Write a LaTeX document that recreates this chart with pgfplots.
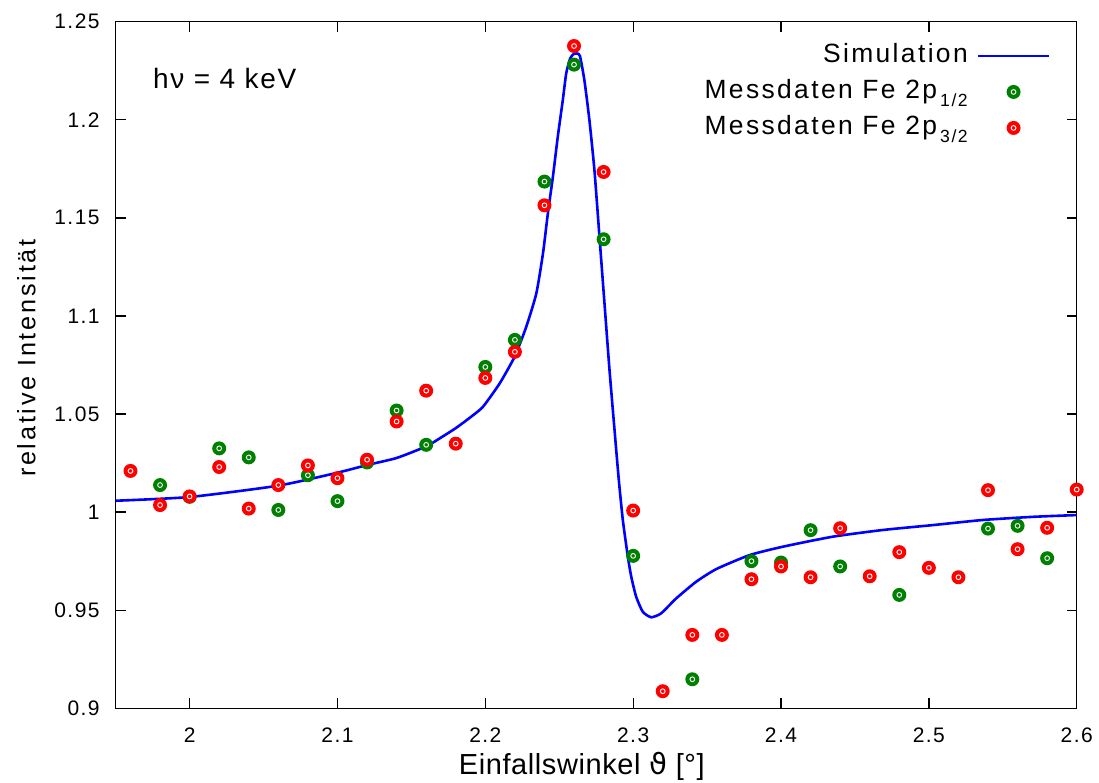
\documentclass[border=0pt]{standalone}
\usepackage{fontspec}
\setmainfont{Liberation Sans}
\newfontfamily\tickfont{Liberation Sans}[LetterSpace=7]
\newfontfamily\legfont{Liberation Sans}[LetterSpace=9]
\newfontfamily\hnufont{Liberation Sans}[LetterSpace=6]
\newfontfamily\xlabfont{Liberation Sans}[LetterSpace=2]
\newfontfamily\ylabfont{Liberation Sans}[LetterSpace=11]
\newfontfamily\dejavu{DejaVu Sans}
\usepackage{pgfplots}
\pgfplotsset{compat=1.18}

\definecolor{simblue}{RGB}{0,0,255}
\definecolor{dgreen}{RGB}{0,128,0}
\definecolor{dred}{RGB}{255,0,0}

\pgfdeclareplotmark{ring}{%
  \pgfpathcircle{\pgfpointorigin}{\pgfplotmarksize}\pgfusepathqfill
  \pgfsetstrokecolor{white}\pgfsetlinewidth{0.45pt}%
  \pgfpathcircle{\pgfpointorigin}{0.34\pgfplotmarksize}\pgfusepathqstroke}

\pgfplotstableread{
x y
1.95 1.0058
2.00 1.0077
2.06 1.0135
2.10 1.0201
2.12 1.0240
2.14 1.0276
2.16 1.0335
2.17 1.0380
2.18 1.0428
2.19 1.0484
2.1984 1.0537
2.2097 1.0656
2.2198 1.0792
2.2277 1.0945
2.2345 1.1115
2.239 1.1319
2.2423 1.1523
2.2457 1.1709
2.249 1.1913
2.2524 1.2100
2.2547 1.2236
2.2574 1.2313
2.2600 1.2337
2.2620 1.2338
2.2640 1.2325
2.267 1.2202
2.2704 1.1998
2.2738 1.1743
2.2772 1.1404
2.2806 1.1064
2.284 1.0724
2.2874 1.0418
2.2903 1.0163
2.2930 0.9960
2.2964 0.9773
2.2987 0.9671
2.3020 0.9569
2.3065 0.9492
2.3122 0.9464
2.3189 0.9484
2.3291 0.9560
2.3426 0.9645
2.3563 0.9710
2.3788 0.9781
2.4014 0.9824
2.4352 0.9875
2.469 0.9909
2.5029 0.9934
2.5367 0.9960
2.5705 0.9976
2.6 0.9985
}\simdata

\pgfplotstableread{
x y
1.98 1.0138
2.00 1.0078
2.02 1.0325
2.04 1.0279
2.06 1.0011
2.08 1.0188
2.10 1.0056
2.12 1.0253
2.14 1.0518
2.16 1.0343
2.20 1.0740
2.22 1.0878
2.24 1.1685
2.26 1.2281
2.28 1.1391
2.30 0.9777
2.34 0.9148
2.38 0.9750
2.40 0.9743
2.42 0.9908
2.44 0.9723
2.48 0.9578
2.54 0.9916
2.56 0.9930
2.58 0.9765
}\greendata

\pgfplotstableread{
x y
1.96 1.0210
1.98 1.0036
2.00 1.0080
2.02 1.0230
2.04 1.0018
2.06 1.0138
2.08 1.0238
2.10 1.0173
2.12 1.0267
2.14 1.0462
2.16 1.0619
2.18 1.0349
2.20 1.0684
2.22 1.0817
2.24 1.1564
2.26 1.2376
2.28 1.1734
2.30 1.0008
2.32 0.9087
2.34 0.9374
2.36 0.9374
2.38 0.9658
2.40 0.9723
2.42 0.9668
2.44 0.9918
2.46 0.9673
2.48 0.9796
2.50 0.9716
2.52 0.9668
2.54 1.0112
2.56 0.9811
2.58 0.9920
2.60 1.0115
}\reddata

\begin{document}
\begin{tikzpicture}
\begin{axis}[
  scale only axis,
  width=480.5pt, height=343.3pt,
  xmin=1.95, xmax=2.6, ymin=0.9, ymax=1.25,
  xtick={2,2.1,2.2,2.3,2.4,2.5,2.6},
  ytick={0.9,0.95,1,1.05,1.1,1.15,1.2,1.25},
  /pgf/number format/assume math mode=true,
  tick align=inside,
  major tick length=5pt,
  axis line style={line width=0.65pt},
  every tick/.style={black, line width=0.65pt},
  tick label style={font=\tickfont\fontsize{10.5}{12}\selectfont},
  yticklabel style={xshift=-4.5pt},
  xticklabel style={yshift=-6.3pt},
  clip=false,
  xlabel={\xlabfont\fontsize{14.5}{16}\selectfont Einfallswinkel {\dejavu ϑ} [°]},
  xlabel style={at={(axis description cs:0.485,-0.0971)}, anchor=base, inner sep=0pt},
  ylabel={\ylabfont\fontsize{12.6}{14}\selectfont relative Intensität},
  ylabel style={at={(axis description cs:-0.093,0.510)}, anchor=center, inner sep=0pt},
  legend image code/.code={\draw[mark repeat=2,mark phase=2,#1] plot coordinates {(0pt,0pt)(17.75pt,0pt)(35.5pt,0pt)};},
  legend cell align=right,
  legend plot pos=right,
  legend style={at={(axis description cs:0.973,0.974)}, anchor=north east,
    draw=none, fill=none, inner sep=0pt, row sep=2pt, column sep=3pt,
    font=\legfont\fontsize{13.2}{15}\selectfont,
    nodes={inner sep=1.5pt, text height=10pt, text depth=3pt}},
]
\addplot[simblue, line width=1.3pt, line join=round, smooth, tension=0.35] table[x=x,y=y] {\simdata};
\addlegendentry{Simulation}
\addplot[only marks, mark=ring, mark size=3.5pt, color=dgreen] table[x=x,y=y] {\greendata};
\addlegendentry{Messdaten Fe 2p\hspace{1.5pt}\raisebox{-3.7pt}{\fontsize{8.8}{9}\selectfont 1/2}}
\addplot[only marks, mark=ring, mark size=3.5pt, color=dred] table[x=x,y=y] {\reddata};
\addlegendentry{Messdaten Fe 2p\hspace{1.5pt}\raisebox{-3.7pt}{\fontsize{8.8}{9}\selectfont 3/2}}
\node[anchor=base west, inner sep=0pt, font=\hnufont\fontsize{14}{16}\selectfont] at (axis description cs:0.0385,0.903) {hν = 4 keV};
\end{axis}
\pgfresetboundingbox
\path ([xshift=-57.85pt,yshift=-37.35pt]current axis.south west) rectangle ([xshift=11.15pt,yshift=10.85pt]current axis.north east);
\end{tikzpicture}
\end{document}
